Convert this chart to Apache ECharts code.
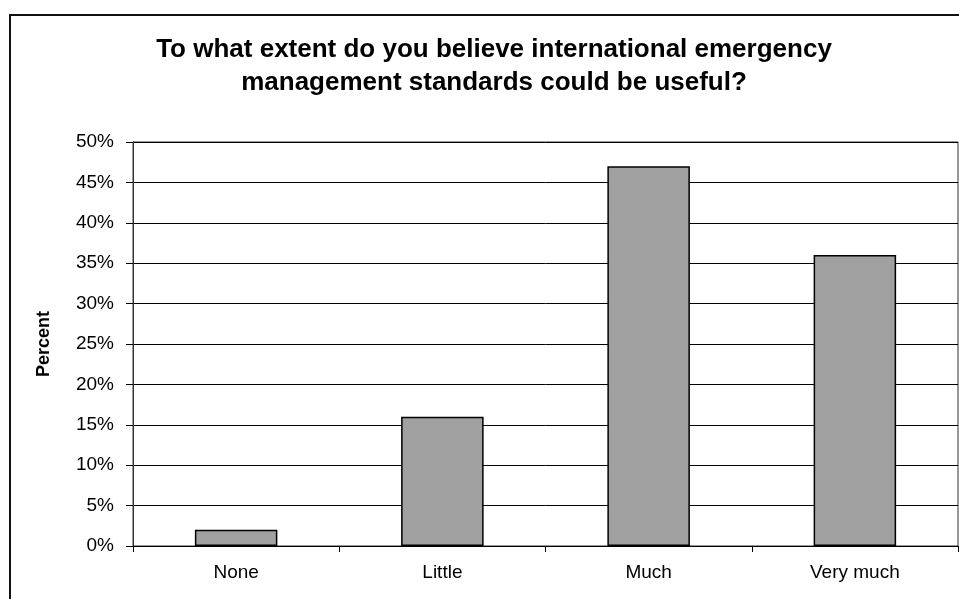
<!DOCTYPE html>
<html>
<head>
<meta charset="utf-8">
<style>
  html, body { margin: 0; padding: 0; background: #fff; }
  #chart { width: 959px; height: 599px; }
</style>
<script src="https://cdn.jsdelivr.net/npm/echarts@6/dist/echarts.min.js"></script>
</head>
<body>
<div id="chart"></div>
<script>
// Survey responses
const categories = ['None', 'Little', 'Much', 'Very much'];
const percentValues = [2, 16, 47, 36];
const yTicks = [0, 5, 10, 15, 20, 25, 30, 35, 40, 45, 50];

const chart = echarts.init(document.getElementById('chart'), null, { renderer: 'canvas' });
const font = 'Liberation Sans, Arial, sans-serif';

chart.setOption({
  animation: false,
  backgroundColor: '#ffffff',
  title: {
    text: 'To what extent do you believe international emergency\nmanagement standards could be useful?',
    left: 489,
    top: 28,
    textAlign: 'center',
    textStyle: { fontFamily: font, fontSize: 26, fontWeight: 'bold', color: '#000', lineHeight: 33 }
  },
  graphic: [{
    type: 'rect',
    shape: { x: 10, y: 15, width: 960, height: 600 },
    style: { fill: 'none', stroke: '#111', lineWidth: 2 },
    z: 100
  }],
  grid: { left: 133, right: 1, top: 142, bottom: 53, show: true, borderColor: '#333', borderWidth: 1 },
  xAxis: {
    type: 'category',
    data: categories,
    boundaryGap: true,
    axisLine: { lineStyle: { color: '#000', width: 1 } },
    axisTick: { show: true, alignWithLabel: false, length: 6, lineStyle: { color: '#000' } },
    axisLabel: { fontFamily: font, fontSize: 19, color: '#000', margin: 17 }
  },
  yAxis: {
    type: 'value',
    min: yTicks[0],
    max: yTicks[yTicks.length - 1],
    interval: 5,
    name: 'Percent',
    nameLocation: 'middle',
    nameRotate: 90,
    nameGap: 80,
    nameTextStyle: { fontFamily: font, fontSize: 18, fontWeight: 'bold', color: '#000' },
    axisLine: { show: true, lineStyle: { color: '#333', width: 1 } },
    axisTick: { show: true, length: 7, lineStyle: { color: '#000' } },
    axisLabel: { fontFamily: font, fontSize: 19, color: '#000', margin: 19, formatter: '{value}%' },
    splitLine: { show: true, lineStyle: { color: '#000', width: 1 } }
  },
  series: [{
    type: 'bar',
    data: percentValues,
    barWidth: '40%',
    itemStyle: { color: '#a0a0a0', borderColor: '#000', borderWidth: 1.5 }
  }]
});
</script>
</body>
</html>
